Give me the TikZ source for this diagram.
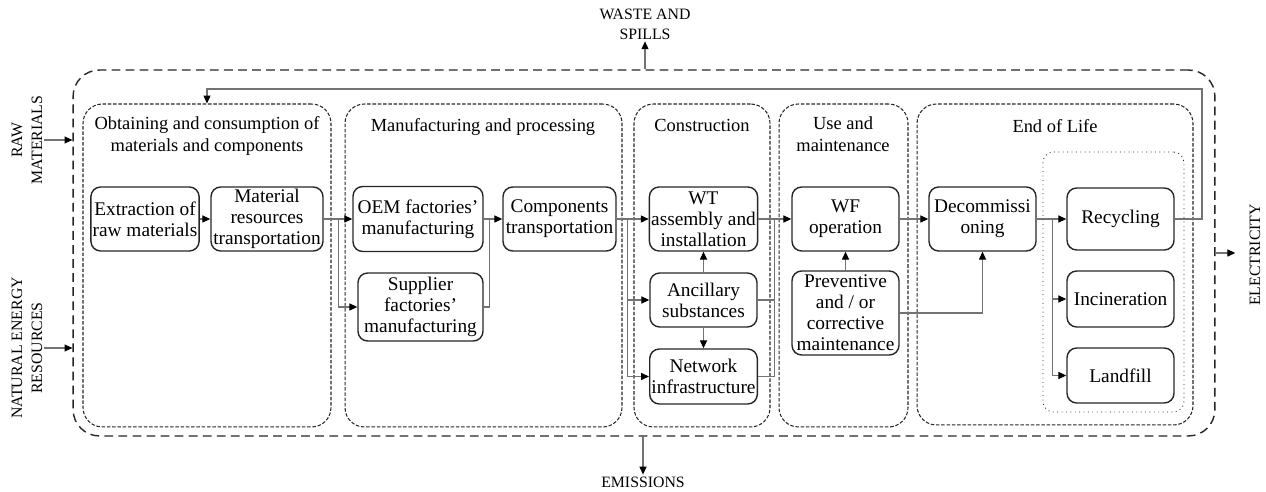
\documentclass[tikz,border=0pt]{standalone}
\usepackage{fontspec}
\setmainfont{Liberation Serif}
\usetikzlibrary{arrows.meta,calc,positioning}
\definecolor{grisconector}{rgb}{0.45,0.45,0.45}
\definecolor{grisborde}{rgb}{0.15,0.15,0.15}
\tikzset{
  proceso/.style={
    rounded corners=5.5pt,
    draw=grisborde,
    line width=.8pt,
    align=center,
    inner sep=1pt,
    minimum width=2.14cm,
    minimum height=1.28cm,
    font=\fontsize{11}{12}\selectfont
  },
  etapa/.style={
    rounded corners=11pt,
    draw=grisborde,
    line width=.6pt,
    dash pattern=on 2pt off 1pt,
    minimum height=6.46cm
  },
  subgrupo/.style={
    rounded corners=6pt,
    draw=grisborde,
    line width=.5pt,
    dotted,
    minimum width=2.82cm,
    minimum height=5.2cm
  },
  sistema/.style={
    rounded corners=15pt,
    draw=grisborde,
    line width=.8pt,
    dash pattern=on 5pt off 3pt
  },
  titulo/.style={
    align=center,
    inner sep=1pt,
    font=\fontsize{10.5}{12.4}\selectfont
  },
  externo/.style={
    align=center,
    inner sep=1pt,
    font=\fontsize{9}{11.3}\selectfont
  },
  arrow/.style={
    -{Triangle[length=4.5pt,width=4pt,color=black,fill=black]},
    line width=.6pt,
    grisconector
  },
  linea/.style={
    line width=.6pt,
    grisconector
  }
}
\begin{document}
\begin{tikzpicture}[x=0.02cm,y=-0.02cm]
\useasboundingbox (0,0) rectangle (1266,492);
\node[sistema, minimum width=22.84cm, minimum height=7.32cm] (todo) at (644,253) {};
\node[etapa, minimum width=4.96cm] (obt) at (207,265.5) {};
\node[etapa, minimum width=5.54cm] (man) at (483.5,265.5) {};
\node[etapa, minimum width=2.72cm] (con) at (702,265.5) {};
\node[etapa, minimum width=2.58cm] (uso) at (843.5,265.5) {};
\node[etapa, minimum width=5.52cm, minimum height=6.42cm] (fin) at (1055,264.5) {};
\node[subgrupo] (trat) at (1113.5,282) {};
\node[titulo] (tobt) at (207,136) {Obtaining and consumption of\\materials and components};
\node[titulo] (tman) at (483,127) {Manufacturing and processing};
\node[titulo] (tcon) at (702,125) {Construction};
\node[titulo] (tuso) at (843,134) {Use and\\maintenance};
\node[titulo] (tfin) at (1055,126) {End of Life};
\node[proceso, minimum width=2.12cm] (extr) at (145,219) {Extraction of\\raw materials};
\node[proceso, minimum width=2.24cm] (mat) at (267,219) {Material\\resources\\transportation};
\node[proceso, minimum width=2.6cm, minimum height=1.3cm] (oem) at (418,219) {OEM factories'\\manufacturing};
\node[proceso, minimum width=2.5cm, minimum height=1.36cm] (sup) at (420.5,307) {Supplier\\factories'\\manufacturing};
\node[proceso, minimum width=2.26cm] (comp) at (559.5,219) {Components\\transportation};
\node[proceso] (wt) at (703.5,219) {WT\\assembly and\\installation};
\node[proceso, minimum height=1.08cm] (anc) at (703.5,300) {Ancillary\\substances};
\node[proceso, minimum height=1.1cm] (red) at (703.5,376.5) {Network\\infrastructure};
\node[proceso] (wf) at (845.5,219) {WF\\operation};
\node[proceso, minimum height=1.68cm] (mant) at (845.5,313) {Preventive\\and / or\\corrective\\maintenance};
\node[proceso] (desm) at (982.5,219) {Decommissi\\oning};
\node[proceso, minimum height=1.24cm] (recic) at (1120.5,219) {Recycling};
\node[proceso, minimum height=1.12cm] (incin) at (1120.5,299) {Incineration};
\node[proceso, minimum height=1.1cm] (vert) at (1120.5,375.5) {Landfill};
\node[externo, rotate=90] (mp) at (27,140) {RAW\\MATERIALS};
\node[externo, rotate=90] (ener) at (27,348) {NATURAL ENERGY\\RESOURCES};
\node[externo] (resid) at (645,24) {WASTE AND\\SPILLS};
\node[externo] (emis) at (643,482) {EMISSIONS};
\node[externo, rotate=90] (elec) at (1255,255) {ELECTRICITY};
\coordinate (retorno) at (1202,89);
\draw[arrow] (mp.south) -- (mp.south -| todo.west);
\draw[arrow] (ener.south) -- (ener.south -| todo.west);
\draw[arrow] (resid.south |- todo.north) -- (resid.south);
\draw[arrow] (todo.south -| emis.north) -- (emis.north);
\draw[arrow, shorten >=7pt] (todo.east) -- (todo.east -| elec.north);
\draw[arrow] (extr) -- (mat);
\draw[arrow] (mat) -- (oem);
\draw[arrow] (mat.east) -- ++(15,0) |- (sup);
\draw[arrow] (oem) -- (comp);
\draw[linea] (sup.east) -| ($(oem.east)!.3!(comp.west)$);
\draw[arrow] (comp) -- (wt);
\draw[arrow] (comp.east) -- ++(11,0) |- (anc);
\draw[arrow] (comp.east) -- ++(11,0) |- (red);
\draw[arrow] (anc) -- (wt);
\draw[arrow] (anc) -- (red);
\draw[arrow] (wt) -- (wf);
\draw[linea] (anc.east) -| ($(wt.east)!.5!(wf.west)$);
\draw[linea] (red.east) -| ($(wt.east)!.5!(wf.west)$);
\draw[arrow] (mant) -- (wf);
\draw[arrow] (wf) -- (desm);
\draw[arrow] (mant.east) -| (desm);
\draw[arrow] (desm) -- (recic);
\draw[arrow] (desm.east) -- ++(16,0) |- (incin);
\draw[arrow] (desm.east) -- ++(16,0) |- (vert);
\draw[arrow] (recic.east) -| (retorno) -| (obt.north);
\end{tikzpicture}
\end{document}
